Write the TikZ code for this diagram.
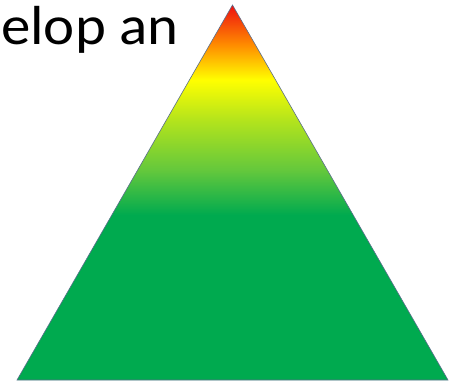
\documentclass[tikz,border=0pt]{standalone}
\usepackage{fontspec}
\setmainfont{Carlito}
\definecolor{pred}{RGB}{238,16,16}
\definecolor{porange}{RGB}{255,140,0}
\definecolor{pyellow}{RGB}{255,255,0}
\definecolor{plime}{RGB}{180,228,28}
\definecolor{plight}{RGB}{100,200,60}
\definecolor{pgreen}{RGB}{0,170,79}
\definecolor{pedge}{RGB}{90,110,140}
\pgfdeclareverticalshading{pyramid}{100bp}{color(0bp)=(pgreen); color(25bp)=(pgreen); color(47bp)=(pgreen); color(53bp)=(plight); color(59.7bp)=(plime); color(65bp)=(pyellow); color(69.7bp)=(porange); color(75bp)=(pred); color(100bp)=(pred)}
\begin{document}
\begin{tikzpicture}[x=1pt,y=-1pt]
  \useasboundingbox (0,0) rectangle (449,381);

  % Pyramide
  \coordinate (apex) at (232.5,5);
  \coordinate (baseleft) at (17,380);
  \coordinate (baseright) at (448,380);
  \path[shading=pyramid,draw=pedge,line width=0.6pt] (apex) -- (baseleft) -- (baseright) -- cycle;

  % Text
  \node[anchor=base west,inner sep=0pt,xscale=1.07,font=\fontsize{55}{60}\selectfont] (caption) at (1,44) {elop an};
\end{tikzpicture}
\end{document}
